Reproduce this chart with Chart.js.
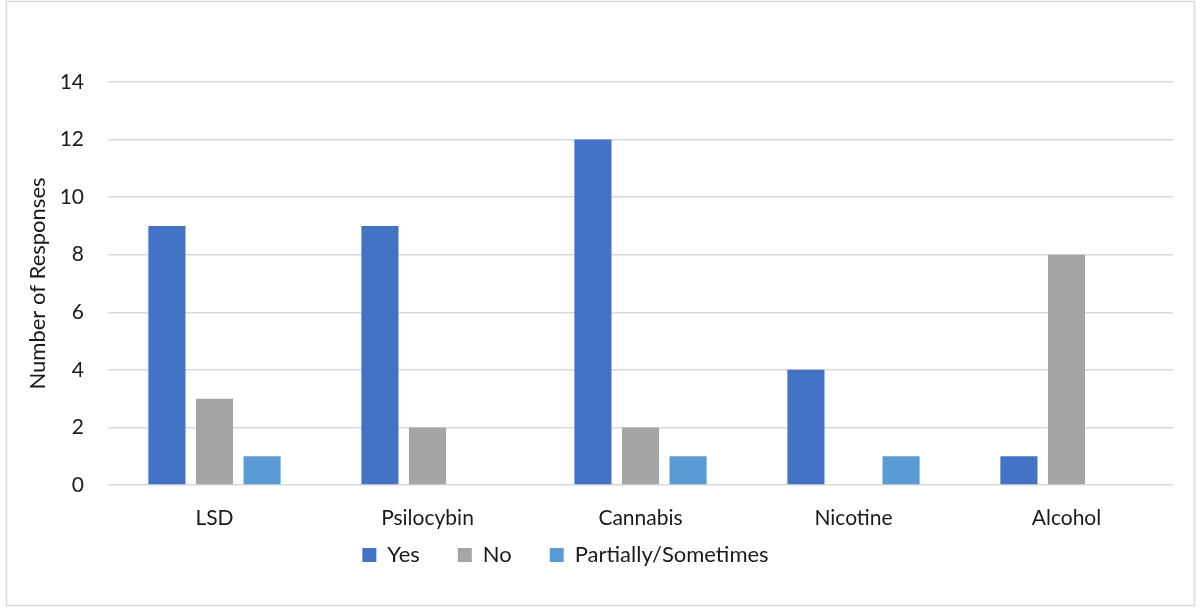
<!DOCTYPE html>
<html>
<head>
<meta charset="utf-8">
<script src="https://cdn.jsdelivr.net/npm/chart.js@4/dist/chart.umd.min.js"></script>
<style>
  html, body { margin: 0; padding: 0; background: #ffffff; }
  #wrap { width: 1201px; height: 613px; position: relative; }
</style>
</head>
<body>
<div id="wrap"><canvas id="chart" width="1201" height="613"></canvas></div>
<script>
// Survey categories and response counts
const categories = ['LSD', 'Psilocybin', 'Cannabis', 'Nicotine', 'Alcohol'];
const yesValues = [9, 9, 12, 4, 1];
const noValues = [3, 2, 2, 0, 8];
const partialValues = [1, 0, 1, 1, 0];
const yTicks = [0, 2, 4, 6, 8, 10, 12, 14];

const FONT = 'Lato, "Open Sans", "Liberation Sans", sans-serif';

// Light frame round the whole chart
const framePlugin = {
  id: 'frame',
  beforeDraw(chart) {
    const ctx = chart.ctx;
    ctx.save();
    ctx.fillStyle = '#ffffff';
    ctx.fillRect(0, 0, chart.width, chart.height);
    ctx.strokeStyle = '#d9d9d9';
    ctx.lineWidth = 1.5;
    ctx.strokeRect(6.5, 1.5, 1188, 604);
    ctx.restore();
  }
};

// Pull the legend row up closer to the category labels and slightly left
const legendPlacePlugin = {
  id: 'legendPlace',
  afterLayout(chart) {
    const lg = chart.legend;
    if (!lg) return;
    const h = lg.height;
    lg.top = 506;
    lg.bottom = lg.top + h;
    lg.left -= 31;
    lg.right -= 31;
  }
};

new Chart(document.getElementById('chart'), {
  type: 'bar',
  data: {
    labels: categories,
    datasets: [
      { label: 'Yes', data: yesValues, backgroundColor: '#4472C4' },
      { label: 'No', data: noValues, backgroundColor: '#A5A5A5' },
      { label: 'Partially/Sometimes', data: partialValues, backgroundColor: '#5B9BD5' }
    ]
  },
  options: {
    responsive: false,
    animation: false,
    devicePixelRatio: 1,
    layout: { padding: { left: 20, right: 28, top: 82, bottom: 6 } },
    datasets: { bar: { categoryPercentage: 0.67, barPercentage: 0.78 } },
    plugins: {
      legend: {
        position: 'bottom',
        labels: {
          font: { family: FONT, size: 22 },
          color: '#1a1a1a',
          boxWidth: 14,
          boxHeight: 14,
          padding: 38
        }
      },
      tooltip: { enabled: false }
    },
    scales: {
      x: {
        grid: { display: false },
        border: { display: false },
        ticks: { font: { family: FONT, size: 21 }, color: '#1a1a1a', padding: 13, maxRotation: 0 },
        afterFit(scale) { scale.height = 52; }
      },
      y: {
        min: 0,
        max: 14,
        afterBuildTicks(scale) { scale.ticks = yTicks.map(v => ({ value: v })); },
        grid: { color: '#d9d9d9', lineWidth: 1.5, drawTicks: false },
        border: { display: false },
        ticks: { font: { family: FONT, size: 21 }, color: '#1a1a1a', padding: 24 },
        title: {
          display: true,
          text: 'Number of Responses',
          font: { family: FONT, size: 22 },
          color: '#1a1a1a',
          padding: { top: 5, bottom: 4 }
        },
        afterFit(scale) { scale.width = 88; }
      }
    }
  },
  plugins: [framePlugin, legendPlacePlugin]
});
</script>
</body>
</html>
